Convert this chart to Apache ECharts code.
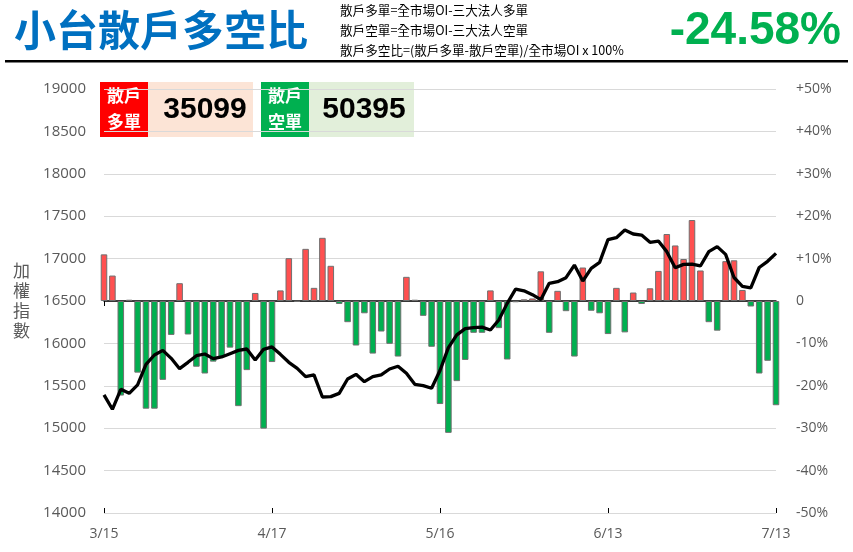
<!DOCTYPE html>
<html><head><meta charset="utf-8">
<script src="https://cdn.jsdelivr.net/npm/echarts@6/dist/echarts.min.js"></script>
<style>html,body{margin:0;padding:0;background:#fff}#c{width:853px;height:552px}</style>
</head><body><div id="c"></div>
<script>
const dates = ["3/15","3/16","3/17","3/20","3/21","3/22","3/23","3/24","3/27","3/28","3/29","3/30","3/31",
"4/6","4/7","4/10","4/11","4/12","4/13","4/14","4/17","4/18","4/19","4/20","4/21","4/24","4/25","4/26","4/27","4/28",
"5/2","5/3","5/4","5/5","5/8","5/9","5/10","5/11","5/12","5/15","5/16","5/17","5/18","5/19","5/22","5/23","5/24","5/25","5/26",
"5/29","5/30","5/31","6/1","6/2","6/5","6/6","6/7","6/8","6/9","6/12","6/13","6/14","6/15","6/16","6/19","6/20","6/21",
"6/26","6/27","6/28","6/29","6/30","7/3","7/4","7/5","7/6","7/7","7/10","7/11","7/12","7/13"];
const ratio = [11.0,6.0,-22.3,0.3,-16.9,-25.4,-25.4,-18.6,-8.0,4.2,-7.9,-15.5,-17.1,-14.3,-13.2,-11.0,-24.8,-16.3,1.9,-30.1,
-14.4,2.5,10.1,-0.2,12.3,3.1,14.9,8.3,-0.7,-5.0,-10.5,-2.9,-12.4,-7.2,-10.1,-13.1,5.7,0.3,-3.5,-10.8,
-24.3,-31.1,-18.9,-13.9,-7.5,-7.5,2.5,-6.4,-13.8,-0.3,0.4,0.6,7.0,-7.5,2.4,-2.4,-13.1,7.9,-2.3,-2.9,
-7.8,3.1,-7.4,2.0,-0.7,3.0,7.1,15.8,13.1,9.9,19.1,7.2,-5.0,-7.0,9.4,9.6,2.6,-1.3,-17.1,-14.1,-24.58];
const index = [15392,15223,15458,15411,15510,15753,15863,15918,15824,15702,15777,15855,15875,15820,15840,15879,15918,15934,15804,15930,
15958,15871,15777,15706,15608,15628,15368,15372,15411,15580,15635,15549,15608,15628,15698,15730,15647,15518,15502,15471,
15680,15950,16100,16175,16186,16192,16158,16276,16472,16640,16620,16575,16516,16708,16728,16775,16924,16736,16885,16956,
17223,17247,17337,17290,17278,17192,17207,17082,16893,16932,16936,16913,17082,17141,17050,16777,16673,16655,16895,16968,17062];
const leftTicks = {min:14000,max:19000,interval:500};
const rightTicks = {min:-50,max:50,interval:10};
const longOI = "35099", shortOI = "50395", lastRatio = "-24.58%";

const chart = echarts.init(document.getElementById('c'), null, {renderer:'canvas'});
const gray = '#595959';
const labelDates = ["3/15","4/17","5/16","6/13","7/13"];
const opt = {
  animation:false,
  grid:{left:104,right:77,top:89,bottom:39},
  xAxis:[{
    type:'category', data:dates, boundaryGap:false,
    axisLine:{lineStyle:{color:'#000',width:1.5}},
    axisTick:{interval:(i,v)=>labelDates.includes(v), length:5, lineStyle:{color:'#000'}},
    axisLabel:{interval:(i,v)=>labelDates.includes(v), color:gray, fontSize:14, margin:14, fontFamily:'Open Sans'},
    splitLine:{show:false}
  },{
    type:'category', data:dates, boundaryGap:false, position:'bottom',
    axisLine:{show:false},
    axisTick:{inside:true, interval:(i,v)=>labelDates.includes(v), length:5, lineStyle:{color:'#000'}},
    axisLabel:{show:false}
  }],
  yAxis:[{
    type:'value', min:leftTicks.min, max:leftTicks.max, interval:leftTicks.interval,
    name:'加\n權\n指\n數', nameLocation:'middle', nameGap:74, nameRotate:0,
    nameTextStyle:{color:gray, fontSize:17, lineHeight:20, fontFamily:'Noto Sans CJK TC'},
    axisLine:{show:false}, axisTick:{show:false},
    axisLabel:{color:gray, fontSize:15, margin:18, fontFamily:'Open Sans', formatter:v=>String(v)},
    splitLine:{lineStyle:{color:'#d9d9d9', width:1}}
  },{
    type:'value', min:rightTicks.min, max:rightTicks.max, interval:rightTicks.interval,
    axisLine:{show:false}, axisTick:{show:false},
    axisLabel:{color:gray, fontSize:14, margin:20, fontFamily:'Open Sans',
      formatter:v=> v>0 ? '+'+v+'%' : (v===0 ? '0' : v+'%')},
    splitLine:{show:false}
  }],
  series:[{
    type:'bar', yAxisIndex:1, data:ratio, barWidth:'78%',
    itemStyle:{color:p=>p.value>=0?'#FF5050':'#00B050', borderColor:'#707070', borderWidth:1},
    z:2
  },{
    type:'line', yAxisIndex:0, data:index, showSymbol:false, symbol:'none',
    lineStyle:{color:'#000', width:3.3}, z:3
  }],
  graphic:[
    {type:'rect', z:-10, shape:{x:100,y:82,width:48,height:55}, style:{fill:'#FF0000'}},
    {type:'rect', z:-10, shape:{x:148,y:82,width:105,height:55}, style:{fill:'#FCE4D6'}},
    {type:'rect', z:-10, shape:{x:261,y:82,width:48,height:55}, style:{fill:'#00B050'}},
    {type:'rect', z:-10, shape:{x:309,y:82,width:105,height:55}, style:{fill:'#E2EFDA'}},
    {type:'text', z:-9, style:{x:124,y:109,text:'散戶\n多單',fill:'#fff',font:'bold 17px "Noto Sans CJK TC"',lineHeight:26,align:'center',verticalAlign:'middle'}},
    {type:'text', z:-9, style:{x:285,y:109,text:'散戶\n空單',fill:'#fff',font:'bold 17px "Noto Sans CJK TC"',lineHeight:26,align:'center',verticalAlign:'middle'}},
    {type:'text', z:-9, style:{x:205,y:110,text:longOI,fill:'#000',font:'bold 30px "Liberation Sans"',align:'center',verticalAlign:'middle'}},
    {type:'text', z:-9, style:{x:364,y:110,text:shortOI,fill:'#000',font:'bold 30px "Liberation Sans"',align:'center',verticalAlign:'middle'}},
    {type:'text', style:{x:14,y:30,text:'小台散戶多空比',fill:'#0070C0',font:'bold 42px "Noto Sans CJK TC"',verticalAlign:'middle'}},
    {type:'text', style:{x:340,y:10,text:'散戶多單=全市場OI-三大法人多單',fill:'#000',font:'12.6px "Noto Sans CJK TC"',verticalAlign:'middle'}},
    {type:'text', style:{x:340,y:30,text:'散戶空單=全市場OI-三大法人空單',fill:'#000',font:'12.6px "Noto Sans CJK TC"',verticalAlign:'middle'}},
    {type:'text', style:{x:340,y:50,text:'散戶多空比=(散戶多單-散戶空單)/全市場OI x 100%',fill:'#000',font:'12.6px "Noto Sans CJK TC"',verticalAlign:'middle'}},
    {type:'text', style:{x:841,y:31,text:lastRatio,fill:'#00B050',font:'bold 46px "Liberation Sans"',align:'right',verticalAlign:'middle'}},
    {type:'rect', shape:{x:5,y:60,width:843,height:2.5}, style:{fill:'#000'}}
  ]
};
chart.setOption(opt);
</script></body></html>
